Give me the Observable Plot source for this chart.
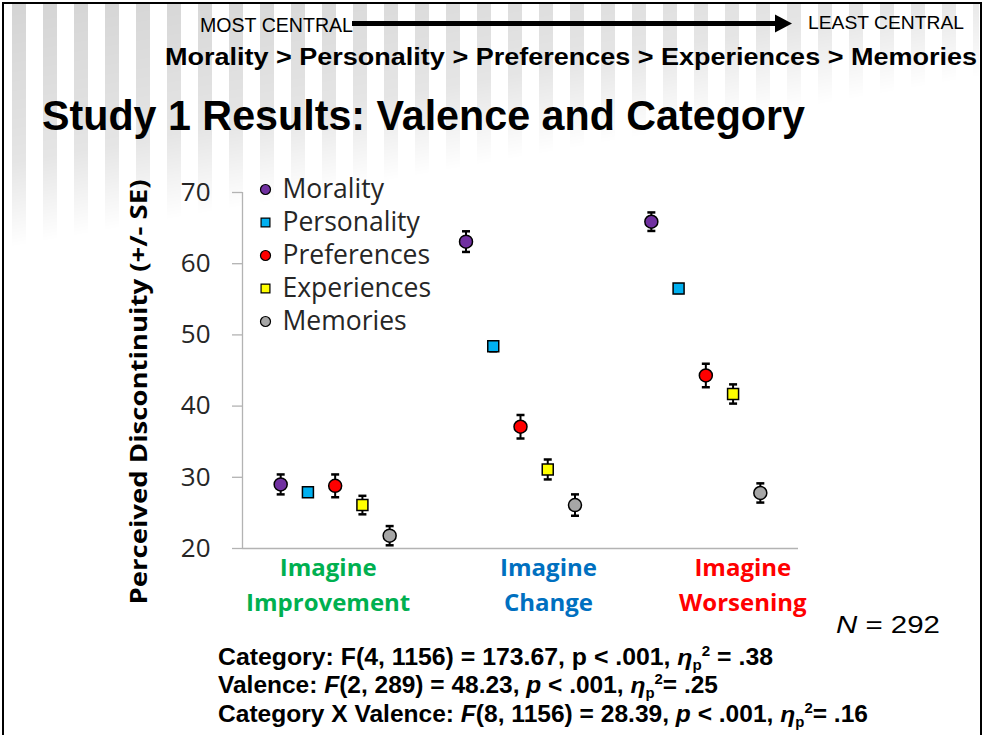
<!DOCTYPE html>
<html>
<head>
<meta charset="utf-8">
<script src="https://cdn.jsdelivr.net/npm/d3@7"></script>
<script src="https://cdn.jsdelivr.net/npm/@observablehq/plot@0.6"></script>
<style>
  html, body { margin: 0; padding: 0; background: #fff; }
  #page { position: relative; width: 983px; height: 735px; overflow: hidden; background: #fff; }
  #stripes {
    position: absolute; left: 4px; top: 4px; width: 975px; height: 250px;
    background: repeating-linear-gradient(90deg, rgba(0,0,0,0) 0 8px, #d4d4d4 8px 22px, rgba(0,0,0,0) 22px 31px);
    -webkit-mask-image: linear-gradient(170deg, rgba(0,0,0,1) 0%, rgba(0,0,0,0.6) 38%, rgba(0,0,0,0) 58%);
    mask-image: linear-gradient(170deg, rgba(0,0,0,1) 0%, rgba(0,0,0,0.6) 38%, rgba(0,0,0,0) 58%);
  }
  #frame { position: absolute; left: 2px; top: 2px; width: 980px; height: 760px; border: 2px solid #000; box-sizing: border-box; }
  #chart { position: absolute; left: 0; top: 160px; }
  #legend { position: absolute; left: 240px; top: 170px; }
  #annot { position: absolute; left: 0; top: 0; }
</style>
</head>
<body>
<div id="page">
  <div id="stripes"></div>
  <div id="frame"></div>
  <div id="chart"></div>
  <div id="legend"></div>
  <svg id="annot" width="983" height="735" xmlns="http://www.w3.org/2000/svg">
    <g font-family="Liberation Sans, Arial, sans-serif" fill="#000">
      <text x="200" y="32" font-size="20" textLength="153" lengthAdjust="spacingAndGlyphs">MOST CENTRAL</text>
      <text x="808" y="28.5" font-size="18" textLength="156" lengthAdjust="spacingAndGlyphs">LEAST CENTRAL</text>
      <text x="165" y="65" font-size="23" font-weight="bold" textLength="812" lengthAdjust="spacingAndGlyphs">Morality &gt; Personality &gt; Preferences &gt; Experiences &gt; Memories</text>
      <text x="42" y="130" font-size="42" font-weight="bold" textLength="763" lengthAdjust="spacingAndGlyphs">Study 1 Results: Valence and Category</text>
      <text x="836" y="633" font-size="23" textLength="104" lengthAdjust="spacingAndGlyphs"><tspan font-style="italic">N</tspan> = 292</text>
      <text x="218" y="665" font-size="23" font-weight="bold" textLength="555" lengthAdjust="spacingAndGlyphs">Category: F(4, 1156) = 173.67, p &lt; .001, <tspan font-style="italic">η</tspan><tspan font-size="14" dy="5">p</tspan><tspan font-size="14" dy="-14">2</tspan><tspan dy="9"> = .38</tspan></text>
      <text x="218" y="693" font-size="23" font-weight="bold" textLength="500" lengthAdjust="spacingAndGlyphs">Valence: <tspan font-style="italic">F</tspan>(2, 289) = 48.23, <tspan font-style="italic">p</tspan> &lt; .001, <tspan font-style="italic">η</tspan><tspan font-size="14" dy="5">p</tspan><tspan font-size="14" dy="-14">2</tspan><tspan dy="9">= .25</tspan></text>
      <text x="218" y="722" font-size="23" font-weight="bold" textLength="650" lengthAdjust="spacingAndGlyphs">Category X Valence: <tspan font-style="italic">F</tspan>(8, 1156) = 28.39, <tspan font-style="italic">p</tspan> &lt; .001, <tspan font-style="italic">η</tspan><tspan font-size="14" dy="5">p</tspan><tspan font-size="14" dy="-14">2</tspan><tspan dy="9">= .16</tspan></text>
    </g>
    <g>
      <line x1="352" y1="23.5" x2="778" y2="23.5" stroke="#000" stroke-width="5"/>
      <polygon points="775,14.5 792,23.5 775,32.5" fill="#000"/>
    </g>
    <text transform="translate(147,392) rotate(-90)" text-anchor="middle" font-family="Open Sans, sans-serif" font-weight="bold" font-size="23" fill="#000" textLength="425" lengthAdjust="spacingAndGlyphs">Perceived Discontinuity (+/- SE)</text>
  </svg>
</div>
<script>
// ---- data ----
const groups = ["Imagine Improvement", "Imagine Change", "Imagine Worsening"];
const groupLabels = ["Imagine\nImprovement", "Imagine\nChange", "Imagine\nWorsening"];
const groupColors = ["#00B050", "#0070C0", "#FF0000"];
const categories = ["Morality", "Personality", "Preferences", "Experiences", "Memories"];
const categoryColors = ["#7030A0", "#00B0F0", "#FF0000", "#FFFF00", "#A6A6A6"];
const categorySymbols = ["circle", "square", "circle", "square", "circle"];
const improvementMeans = [29.0, 27.9, 28.8, 26.1, 21.8];
const improvementSE = [1.4, 0.6, 1.6, 1.3, 1.35];
const changeMeans = [63.1, 48.4, 37.1, 31.1, 26.1];
const changeSE = [1.45, 0.7, 1.65, 1.4, 1.5];
const worseningMeans = [65.9, 56.5, 44.3, 41.7, 27.8];
const worseningSE = [1.3, 0.6, 1.65, 1.35, 1.35];
const yTicks = [20, 30, 40, 50, 60, 70];

// ---- build table ----
const meansByGroup = [improvementMeans, changeMeans, worseningMeans];
const seByGroup = [improvementSE, changeSE, worseningSE];
const dodge = 0.147; // within-group spacing of categories (in group units)
const rows = [];
groups.forEach((g, gi) => {
  categories.forEach((c, ci) => {
    rows.push({
      group: g, gi, category: c, ci,
      pos: gi + (ci - 2) * dodge,
      mean: meansByGroup[gi][ci],
      se: seByGroup[gi][ci],
      color: categoryColors[ci],
      symbol: categorySymbols[ci]
    });
  });
});
const groupRows = groups.map((g, gi) => ({gi, label: groupLabels[gi], color: groupColors[gi]}));
const legendRows = categories.map((c, ci) => ({category: c, color: categoryColors[ci], symbol: categorySymbols[ci]}));

const capSymbol = {
  draw(ctx, size) {
    const r = Math.sqrt(size / Math.PI);
    ctx.moveTo(-r, 0);
    ctx.lineTo(r, 0);
  }
};

// the slide's category labels sit slightly off the point clusters
const labelNudge = [-7, 28, 37];

const chart = Plot.plot({
  width: 983,
  height: 470,
  marginLeft: 242,
  marginRight: 185,
  marginTop: 32,
  marginBottom: 82,
  style: {fontFamily: "'Open Sans', sans-serif", background: "transparent", overflow: "visible"},
  x: {domain: [-0.5, 2.5], axis: null},
  y: {domain: [20, 70], axis: null},
  color: {type: "identity"},
  marks: [
    Plot.axisY({ticks: yTicks, tickSize: 10, tickFormat: () => "", label: null, stroke: "#b3b3b3", strokeWidth: 1.3}),
    Plot.ruleX([-0.5], {y1: 20, y2: 70, stroke: "#b3b3b3", strokeWidth: 1.3}),
    Plot.ruleY([20], {stroke: "#b3b3b3", strokeWidth: 1.6}),
    Plot.text(yTicks, {y: d => d, frameAnchor: "left", dx: -32, textAnchor: "end", fontSize: 26, fill: "#262626"}),
    Plot.ruleX(rows, {x: "pos", y1: d => d.mean - d.se, y2: d => d.mean + d.se, stroke: "#000", strokeWidth: 2}),
    Plot.dot(rows, {x: "pos", y: d => d.mean - d.se, symbol: capSymbol, r: 4, stroke: "#000", strokeWidth: 2.5}),
    Plot.dot(rows, {x: "pos", y: d => d.mean + d.se, symbol: capSymbol, r: 4, stroke: "#000", strokeWidth: 2.5}),
    Plot.dot(rows.filter(d => d.symbol === "circle"), {x: "pos", y: "mean", r: 6.5, fill: d => d.color, stroke: "#000", strokeWidth: 1.5, symbol: "circle"}),
    Plot.dot(rows.filter(d => d.symbol === "square"), {x: "pos", y: "mean", r: 6.2, fill: d => d.color, stroke: "#000", strokeWidth: 1.5, symbol: "square"}),
    ...groupRows.map((r, i) => Plot.text([r], {x: "gi", text: "label", fill: d => d.color, frameAnchor: "bottom", dx: labelNudge[i], dy: 62, fontSize: 24, fontWeight: "bold", lineHeight: 1.42}))
  ]
});
document.getElementById("chart").appendChild(chart);

const legend = Plot.plot({
  width: 220,
  height: 170,
  marginTop: 17,
  marginBottom: 18,
  marginLeft: 0,
  marginRight: 0,
  style: {fontFamily: "'Open Sans', sans-serif", background: "transparent", overflow: "visible"},
  y: {type: "point", domain: categories, padding: 0, axis: null},
  color: {type: "identity"},
  marks: [
    Plot.dot(legendRows.filter(d => d.symbol === "circle"), {y: "category", frameAnchor: "left", dx: 25, r: 5, fill: d => d.color, stroke: "#000", strokeWidth: 1.2, symbol: "circle"}),
    Plot.dot(legendRows.filter(d => d.symbol === "square"), {y: "category", frameAnchor: "left", dx: 25, r: 5, fill: d => d.color, stroke: "#000", strokeWidth: 1.2, symbol: "square"}),
    Plot.text(legendRows, {y: "category", text: "category", frameAnchor: "left", dx: 42, textAnchor: "start", fontSize: 26.5, fill: "#262626"})
  ]
});
document.getElementById("legend").appendChild(legend);
</script>
</body>
</html>
